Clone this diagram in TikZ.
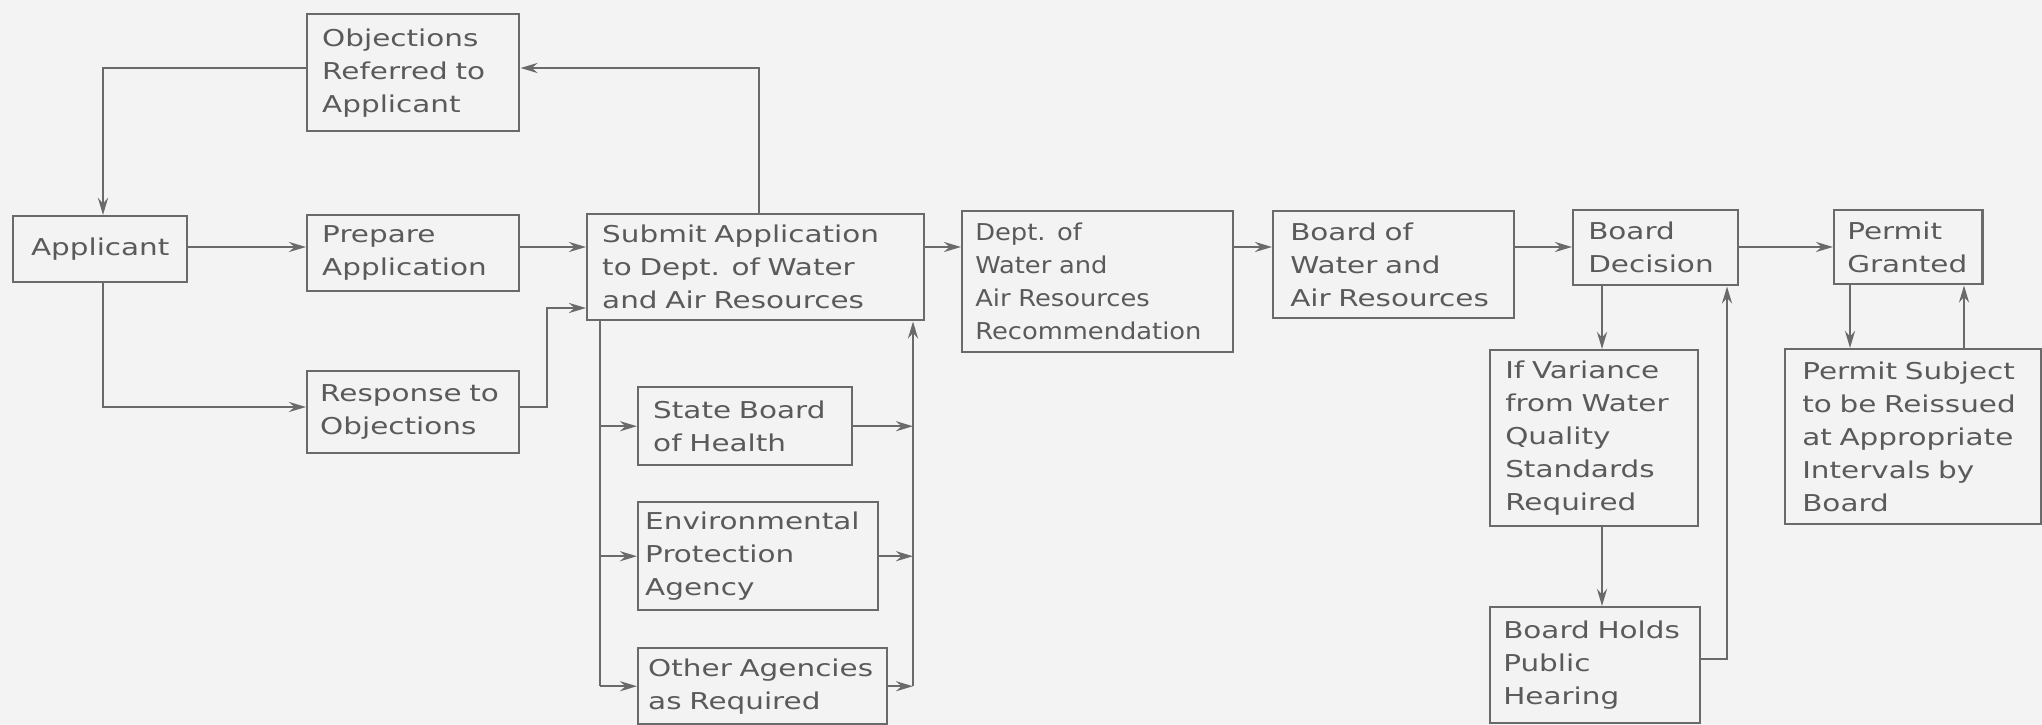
\documentclass[tikz,border=0pt]{standalone}
\usepackage{fontspec}
\setmainfont{DejaVu Sans}[FakeStretch=1.27]
\newfontfamily\slimfont{DejaVu Sans}[FakeStretch=1.11]
\usetikzlibrary{arrows.meta}
\definecolor{paper}{HTML}{F3F3F3}
\definecolor{ink}{HTML}{6A6A6A}
\definecolor{textink}{HTML}{5A5A5A}

\begin{document}
\begin{tikzpicture}[
  box/.style={draw=ink, line width=0.7pt, anchor=north west, align=left,
    inner xsep=0.15cm, inner ysep=0pt, text=textink,
    font=\fontsize{6.6}{9.4}\selectfont},
  wire/.style={draw=ink, line width=0.7pt},
  arr/.style={wire, -{Stealth[length=1.7mm,width=1mm]}}]

\fill[paper] (0,0) rectangle (20.42,-7.25);
\useasboundingbox (0,0) rectangle (20.42,-7.25);

% boxes
\node[box, minimum width=2.12cm, minimum height=1.17cm, text width=1.82cm] (obj) at (3.06,-0.13) {Objections\\Referred to\\Applicant};
\node[box, minimum width=1.74cm, minimum height=0.66cm, text width=1.44cm, align=center] (app) at (0.12,-2.15) {Applicant};
\node[box, minimum width=2.12cm, minimum height=0.76cm, text width=1.82cm] (prep) at (3.06,-2.14) {Prepare\\Application};
\node[box, minimum width=2.12cm, minimum height=0.82cm, inner xsep=0.13cm, text width=1.86cm] (resp) at (3.06,-3.70) {Response to\\Objections};
\node[box, minimum width=3.37cm, minimum height=1.06cm, text width=3.07cm] (sub) at (5.86,-2.13) {Submit Application\\to Dept. of Water\\and Air Resources};
\node[box, minimum width=2.14cm, minimum height=0.78cm, text width=1.84cm] (sbh) at (6.37,-3.86) {State Board\\of Health};
\node[box, minimum width=2.40cm, minimum height=1.08cm, inner xsep=0.07cm, text width=2.26cm] (epa) at (6.37,-5.01) {Environmental\\Protection\\Agency};
\node[box, minimum width=2.49cm, minimum height=0.76cm, inner xsep=0.10cm, text width=2.29cm] (oth) at (6.37,-6.47) {Other Agencies\\as Required};
\node[box, minimum width=2.71cm, minimum height=1.41cm, inner xsep=0.13cm, text width=2.45cm, font=\slimfont\fontsize{6.6}{9.4}\selectfont] (dept) at (9.61,-2.10) {Dept. of\\Water and\\Air Resources\\Recommendation};
\node[box, minimum width=2.41cm, minimum height=1.07cm, inner xsep=0.17cm, text width=2.07cm] (bwa) at (12.72,-2.10) {Board of\\Water and\\Air Resources};
\node[box, minimum width=1.65cm, minimum height=0.75cm, text width=1.35cm] (dec) at (15.72,-2.09) {Board\\Decision};
\node[box, minimum width=1.48cm, minimum height=0.74cm, inner xsep=0.13cm, text width=1.22cm] (pg) at (18.33,-2.09) {Permit\\Granted};
\node[box, minimum width=2.08cm, minimum height=1.76cm, text width=1.78cm] (var) at (14.89,-3.49) {If Variance\\from Water\\Quality\\Standards\\Required};
\node[box, minimum width=2.10cm, minimum height=1.16cm, inner xsep=0.13cm, text width=1.84cm] (hold) at (14.89,-6.06) {Board Holds\\Public\\Hearing};
\node[box, minimum width=2.56cm, minimum height=1.75cm, inner xsep=0.17cm, text width=2.22cm] (psub) at (17.84,-3.48) {Permit Subject\\to be Reissued\\at Appropriate\\Intervals by\\Board};

% routing guides
\coordinate (row) at (0,-2.47);
\coordinate (topY) at (0,-0.68);
\coordinate (respY) at (0,-4.07);
\coordinate (subIn2) at (0,-3.08);
\coordinate (hOut) at (0,-6.59);
\coordinate (aL) at (1.03,0);
\coordinate (sT) at (7.59,0);
\coordinate (riser) at (5.47,0);
\coordinate (bL) at (6.00,0);
\coordinate (bR) at (9.13,0);
\coordinate (dD) at (16.02,0);
\coordinate (dU) at (17.27,0);
\coordinate (pD) at (18.50,0);
\coordinate (pU) at (19.64,0);

% main line
\draw[arr] (app.east |- row) -- (prep.west |- row);
\draw[arr] (prep.east |- row) -- (sub.west |- row);
\draw[arr] (sub.east |- row) -- (dept.west |- row);
\draw[arr] (dept.east |- row) -- (bwa.west |- row);
\draw[arr] (bwa.east |- row) -- (dec.west |- row);
\draw[arr] (dec.east |- row) -- (pg.west |- row);

% objection loop
\draw[arr] (sub.north -| sT) |- (obj.east |- topY);
\draw[arr] (obj.west |- topY) -| (app.north -| aL);
\draw[arr] (app.south -| aL) |- (resp.west |- respY);
\draw[arr] (resp.east |- respY) -| (riser |- subIn2) -- (sub.west |- subIn2);

% agency review
\draw[wire] (sub.south -| bL) -- (bL |- oth.west);
\draw[arr] (bL |- sbh.west) -- (sbh.west);
\draw[arr] (bL |- epa.west) -- (epa.west);
\draw[arr] (bL |- oth.west) -- (oth.west);
\draw[arr] (sbh.east) -- (bR |- sbh.east);
\draw[arr] (epa.east) -- (bR |- epa.east);
\draw[arr] (oth.east) -- (bR |- oth.east);
\draw[arr] (bR |- oth.east) -- (bR |- sub.south);

% variance branch
\draw[arr] (dec.south -| dD) -- (var.north -| dD);
\draw[arr] (var.south -| dD) -- (hold.north -| dD);
\draw[arr] (hold.east |- hOut) -| (dec.south -| dU);

% permit renewal
\draw[arr] (pg.south -| pD) -- (psub.north -| pD);
\draw[arr] (psub.north -| pU) -- (pg.south -| pU);
\end{tikzpicture}
\end{document}
